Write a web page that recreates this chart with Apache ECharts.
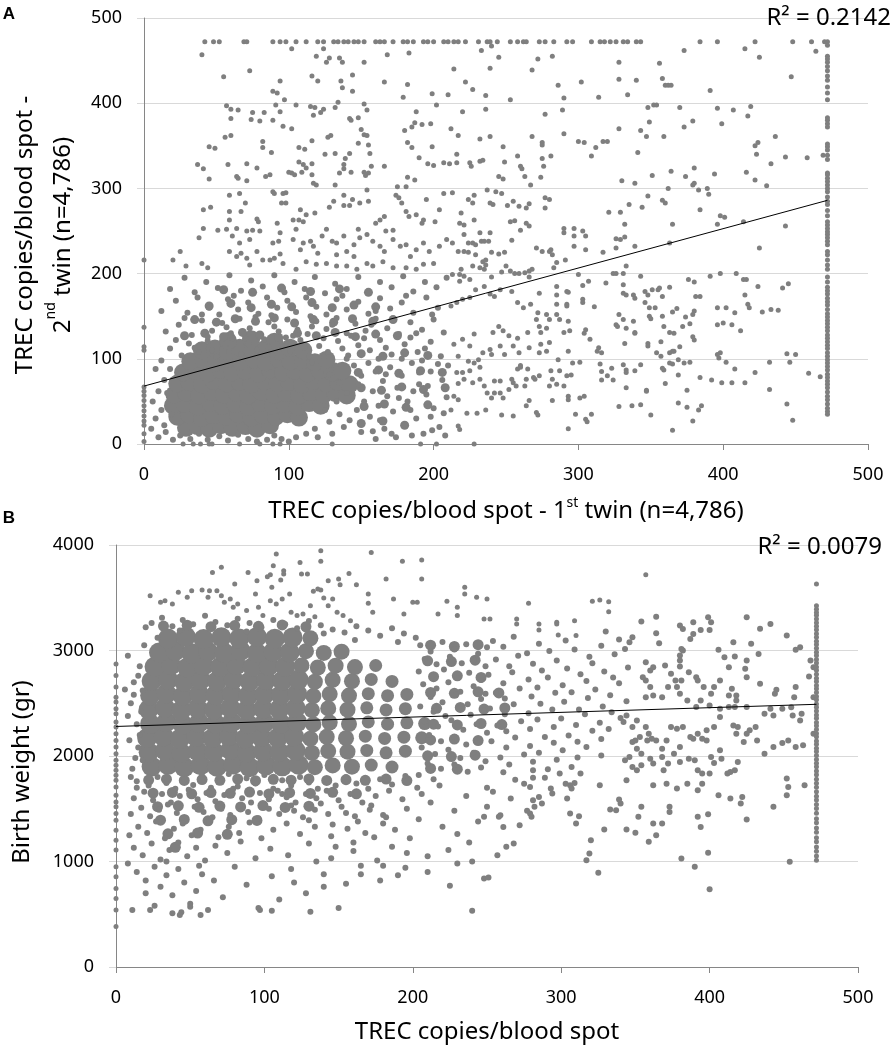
<!DOCTYPE html>
<html>
<head>
<meta charset="utf-8">
<script src="https://cdn.jsdelivr.net/npm/echarts/dist/echarts.min.js"></script>
<style>html,body{margin:0;padding:0;background:#fff}#chart{width:896px;height:1054px}</style>
</head>
<body>
<div id="chart"></div>
<script>
// ---- panel A : TREC copies, 1st twin vs 2nd twin ----
const twinTicks = [0, 100, 200, 300, 400, 500];
const twinCap = 472; // values above the assay range are plotted at the cap
const twinTopRowX = [42,48,52,69,71,89,94,98,105,112,120,124,131,134,138,141,145,148,152,160,163,166,172,179,182,186,193,196,200,207,210,214,217,222,231,237,239,244,253,258,262,264,273,277,283,292,296,309,315,318,322,326,331,334,340,343,384,396,422,448,461,470];
const twinRightColY = [472,468,455,452,448,443,438,432,427,419,412,404,383,380,376,372,352,349,345,339,334,318,316,312,308,304,300,296,290,285,281,274,268,261,257,253,249,246,242,238,234,226,222,216,210,205,196,190,184,180,176,171,167,163,158,153,149,145,141,137,133,128,124,120,116,112,107,103,99,95,91,87,82,78,74,70,66,61,56,52,47,42,38,35];
const twinZeroColY = [216,137,114,110,67,62,57,51,45,39,33,27,22,12,3];
const twinZeroRowX = [27,34,39,45,47,66,80,89,94,130,191,202,228];
const twinTrend = [[0, 68], [472, 286]];
const twinR2 = '0.2142';

// solid core of the cloud (drawn with larger marks)
const twinCore = [
  [29,19],[37,21],[45,18],[53,22],[61,19],[70,21],[78,18],[87,22],
  [23,32],[31,35],[40,31],[48,34],[57,32],[65,35],[74,31],[82,34],[91,32],[99,35],[107,31],
  [20,45],[28,47],[37,44],[46,48],[54,45],[63,47],[72,44],[80,48],[89,45],[97,47],[106,44],[114,48],[122,45],
  [21,58],[29,60],[38,57],[47,61],[55,58],[64,60],[72,57],[81,61],[90,58],[98,60],[107,57],[115,61],[124,58],[132,60],[140,57],
  [23,71],[31,73],[40,70],[48,74],[57,71],[66,73],[74,70],[83,74],[92,71],[100,73],[109,70],[117,74],[126,71],[134,73],[142,70],
  [27,84],[35,86],[44,83],[53,87],[61,84],[70,86],[79,83],[87,87],[96,84],[104,86],[113,83],[121,87],[130,84],[137,86],
  [32,97],[41,99],[50,96],[58,100],[67,97],[76,99],[84,96],[93,100],[101,97],[110,99],[118,96],[126,99],
  [40,110],[49,112],[58,109],[66,113],[75,110],[84,112],[93,109],[101,113],[110,110],
  [58,121],[74,123],[90,120]
];
// dense but speckled part around the core
const twinDense = [
  [28,127],[42,130],[55,126],[68,131],[80,128],[93,125],[106,130],[119,127],[132,131],[146,126],[160,129],[175,127],
  [35,146],[50,143],[63,147],[77,144],[90,148],[104,142],[117,146],[131,143],[144,147],[158,144],[172,146],
  [45,162],[60,165],[74,160],[88,164],[102,161],[116,166],[130,160],[145,163],[160,161],
  [55,181],[75,178],[95,183],[115,179],[135,182],[155,178],
  [150,24],[165,27],[180,22],
  [152,44],[166,47],[181,43],[196,46],
  [150,66],[164,63],[178,67],[193,64],[208,66],
  [148,84],[162,87],[176,83],[191,86],[206,84],
  [150,106],[165,103],[180,107],[196,104]
];
const twinMid = [
  [18,112],[26,104],[31,118],[38,108],[44,121],[50,103],[56,115],[61,124],[67,106],[72,118],[78,110],[83,123],[89,104],[95,116],[101,109],[108,122],[114,103],[121,115],[127,108],[134,121],[141,104],[148,116],[156,110],[163,122],[171,105],[180,117],[189,108],[198,120],[205,103],
  [22,122],[35,113],[47,110],[59,108],[70,124],[86,114],[98,125],[111,113],[124,124],[137,112],[152,124],[167,113],[184,125],[194,112],
  [15,132],[24,140],[33,128],[40,145],[47,133],[54,142],[60,130],[66,147],[73,136],[80,128],[86,143],[93,132],[99,146],[106,134],[113,129],[119,144],[126,135],[133,148],[140,130],[146,141],[153,133],[160,147],[168,136],[176,129],[184,143],[192,134],[200,146],[207,131],
  [28,148],[44,126],[57,137],[77,149],[90,138],[103,127],[116,138],[130,140],[143,127],[157,140],[172,146],[188,130],
  [12,156],[22,168],[30,154],[37,172],[45,160],[52,152],[58,170],[65,158],[72,166],[79,153],[85,172],[92,160],[99,168],[105,155],[112,172],[119,161],[126,152],[133,170],[140,158],[148,167],[155,153],[163,171],[170,159],[178,166],[186,154],[195,172],[203,160],
  [40,152],[62,174],[88,151],[115,150],[137,174],[160,156],[181,174],[199,152],
  [18,182],[28,195],[35,178],[43,190],[51,183],[59,198],[67,180],[74,192],[82,185],[90,198],[97,178],[104,190],[111,182],[118,196],[125,177],[132,188],[140,182],[148,196],[155,178],[163,190],[171,184],[179,197],[186,179],[194,190],[202,184],[209,195],
  [145,92],[150,80],[155,95],[148,70],[158,62],[152,50],[160,85],[165,74],[147,40],[156,32],[162,45],[168,56],[170,90],[175,66],[172,38],[178,80],[182,50],[185,95],[188,30],[190,70],[195,58],[198,85],[200,42],[204,20],[206,75],[209,55],[180,22],[166,18],[150,14],[138,20],[130,12],[120,8],[142,28],[135,35],[128,26],[193,12],[185,10],[174,8],[160,6],[210,92],[192,98],[178,100],[162,100],[140,100],[132,92],[116,96],[124,102],[128,82],[135,72],[140,60],[133,50],[125,40],[118,18],[112,12],[105,8],[95,6],[85,5],[72,6],[198,32],[208,10],
  [163,28],[171,12],[184,40],[196,68],[203,94],[186,62],[176,54],[158,15],[167,82],[190,84],[199,16],[207,36],
  [10,8],[15,14],[20,5],[25,10],[32,6],[38,12],[44,5],[52,9],[58,4],[65,11],[78,3],[90,10],[100,3],[14,22],[8,30],[12,40],[6,50],[10,62],[14,75],[8,88],[12,98],[18,88],[16,60],[19,35],[5,18]
];
const twinUpper = [
  [41,275],[46,278],[59,292],[66,294],[59,273],[67,273],[70,283],[78,264],[79,261],[89,296],[90,294],[96,294],[98,295],[95,283],[98,283],[103,263],[107,263],[110,261],[112,269],[118,271],[108,275],[128,278],[131,285],[138,292],[138,280],[142,280],[144,287],[149,283],[155,285],[154,298],[160,259],[163,263],[166,267],[167,250],[172,251],[174,292],[176,289],[178,283],[181,273],[183,267],[188,269],[192,259],[193,263],[201,261],[195,287],[204,275],[207,294],
  [41,253],[38,242],[51,251],[57,252],[25,226],[20,216],[29,209],[40,212],[44,207],[59,263],[61,244],[64,253],[66,236],[71,250],[73,240],[75,251],[80,250],[59,226],[64,220],[67,224],[71,218],[73,210],[78,226],[82,216],[87,216],[90,218],[94,223],[96,212],[92,259],[94,248],[89,236],[93,238],
  [103,240],[105,252],[108,228],[110,236],[115,238],[117,232],[120,224],[123,244],[126,252],[130,238],[133,236],[138,244],[133,222],[140,226],[145,220],[145,234],[148,252],[149,242],[154,246],[158,238],[163,232],[166,226],[172,240],[177,232],[181,234],[184,220],[188,228],[193,236],[197,226],[204,232],[209,240],[200,212],[193,211],[188,205],[181,207],[172,207],[165,214],[158,209],[154,212],[147,205],[140,209],[133,209],[126,212],[119,211],[112,214],[105,205],
  [40,457],[55,431],[73,438],[102,464],[124,464],[119,455],[126,448],[128,453],[135,453],[137,448],[152,448],[168,457],[183,459],[116,432],[120,426],[136,426],[137,418],[144,433],[144,414],[94,426],[89,414],[92,412],[97,404],[91,398],[105,398],[115,396],[118,395],[57,397],[60,393],[65,392],[60,382],[75,389],[74,381],[80,379],[83,389],[89,380],[94,390],[96,373],[102,370],[124,393],[122,389],[117,386],[132,395],[134,401],[142,382],[143,380],[148,383],[152,399],[154,392],[150,369],[152,363],[154,362],
  [166,425],[179,407],[182,422],[188,390],[199,411],[202,398],[210,410],[214,440],[222,425],[227,416],[233,462],[239,441],[236,409],[236,393],[240,467],[245,454],[253,404],[268,439],[272,452],[282,455],[286,421],[290,406],[289,392],[290,364],[277,387],[302,425],[314,407],[220,390],[212,370],[217,362],[317,355],[320,355],[312,348],[309,338],[300,355],[304,354],[268,361],[275,354],[275,351],[239,361],[232,358],[248,349],[258,338],[261,323],[260,326],[263,314],[275,335],[276,326],[281,338],[274,313],[267,304],
  [200,327],[196,329],[207,330],[211,329],[216,330],[225,330],[226,326],[232,332],[234,333],[249,331],[245,314],[248,311],[216,340],[199,349],[198,376],[192,375],[185,348],[182,354],[190,336],[180,368],[185,372],[187,377],[175,302],[181,302],[182,313],[187,310],[166,326],[156,341],[157,326],[155,318],[155,351],[152,319],[153,315],[148,353],[142,341],[139,335],[138,328],[143,319],[135,318],[138,323],[132,341],[125,340],[129,362],[127,360],[116,356],[107,348],[111,346],[107,331],[110,328],[112,324],[116,329],[109,319],[116,316],[117,306],[119,304],[132,304],[102,318],[104,316],[100,319],[88,342],[82,348],[82,355],[84,314],[87,316],[78,324],[71,329],[71,309],[64,314],[65,312],[58,328],[56,360],[60,362],[45,349],[49,347],[37,328],[41,323],[45,311]
];
const twinRight = [
  [213,295],[219,271],[224,287],[228,292],[227,283],[237,298],[243,296],[247,294],[239,283],[241,281],[251,280],[255,285],[259,279],[264,277],[266,282],[277,277],[277,289],[280,287],[218,259],[221,257],[228,263],[221,246],[224,236],[213,236],[221,226],[227,236],[229,234],[232,248],[239,248],[233,238],[235,238],[238,238],[240,225],[245,223],[249,225],[254,239],[253,261],[256,262],[260,251],[264,259],[266,256],
  [217,226],[224,225],[229,222],[234,214],[236,216],[236,210],[235,205],[240,196],[232,207],[227,209],[219,205],[213,199],[218,199],[221,197],[225,193],[247,202],[250,209],[253,203],[256,200],[259,200],[263,201],[266,203],[268,205],[266,196],[271,230],[275,226],[280,226],[282,222],[281,228],[283,207],[285,213],[291,216],[290,248],[290,253],[297,253],[297,244],[303,250],[305,244],[305,228],[297,232],[300,199],[303,186],[307,191],
  [285,185],[285,175],[292,179],[293,178],[285,164],[292,162],[292,164],[303,170],[303,166],[311,161],[273,177],[267,164],[258,166],[262,160],[254,179],[246,181],[242,173],[239,176],[235,185],[229,181],[225,172],[220,170],[216,166],[212,162],[218,191],
  [272,154],[271,146],[278,152],[280,146],[273,138],[278,136],[274,131],[285,152],[293,144],[294,133],[287,146],[290,131],[280,119],[274,117],[273,107],[278,109],[286,99],[293,109],[296,95],[301,96],[305,134],[304,130],[308,123],[265,131],[266,113],[258,124],[259,107],[260,92],[255,115],[252,127],[248,133],[245,138],[241,131],[239,111],[246,115],[249,105],[240,105],[234,107],[228,129],[225,115],[231,99],[220,123],[214,117],[217,103],[224,97],[228,95],[232,90],
  [216,84],[220,84],[225,86],[217,71],[221,76],[227,72],[232,76],[235,68],[237,60],[240,54],[242,60],[246,60],[248,54],[252,64],[255,72],[258,88],[260,90],[265,88],[269,78],[270,76],[273,80],[264,76],[281,86],[282,76],[287,86],[292,80],[295,81],[280,68],[285,70],[290,68],[263,68],[266,51],[257,68],[254,76],[246,74],[242,74],
  [214,56],[217,52],[212,40],[223,36],[230,36],[236,40],[247,34],[255,33],[264,45],[271,37],[272,34],[282,51],[293,56],[293,52],[301,54],[304,56],[298,35],[305,29],[306,26],[309,35],[293,18],[217,21],[218,17],
  [317,225],[324,200],[326,200],[331,200],[333,209],[343,197],[319,189],[331,187],[331,177],[333,175],[338,175],[339,171],[346,179],[348,175],[351,181],[355,181],[356,183],[358,173],[363,184],[376,193],[380,190],[381,173],[384,173],[391,197],[398,200],[409,200],[414,193],[416,193],[424,185],[441,183],[445,188],[415,175],[417,164],[418,160],[427,155],[433,158],[438,157],
  [396,160],[402,160],[408,154],[412,133],[396,140],[400,142],[406,140],[328,152],[326,140],[327,138],[333,136],[339,130],[331,146],[338,144],[346,166],[349,160],[349,150],[350,147],[353,160],[358,150],[359,138],[363,131],[366,130],[368,159],[365,155],[372,138],[374,149],[377,141],[379,152],[380,156],[379,126],[380,122],
  [373,95],[377,96],[370,114],[369,81],[363,107],[365,109],[366,109],[357,103],[354,107],[357,120],[348,118],[348,115],[339,131],[332,118],[316,107],[313,109],[314,113],[315,94],[316,85],[316,75],[323,89],[320,80],[324,75],[331,93],[333,87],[333,84],[339,86],[343,93],[333,66],[347,63],[360,71],[358,89],[359,87],[363,95],[365,94],[369,99],
  [384,78],[392,75],[396,105],[398,107],[397,101],[402,96],[408,88],[399,72],[406,72],[415,72],[422,84],[432,96],[432,64],[444,106],[450,105],[446,96],[459,83],[467,79],[444,47],[448,28],[328,44],[337,45],[343,46],[350,34],[347,62],[365,16],[369,48],[375,43],[379,27],[383,40],[385,45],[375,63],
  [373,462],[415,464],[425,454],[447,431],[464,461],[328,448],[356,447],[328,428],[340,427],[334,410],[358,429],[360,421],[362,421],[364,421],[391,415],[352,398],[354,398],[348,395],[370,395],[396,394],[407,392],[419,396],[417,385],[379,379],[373,372],[349,378],[343,368],[347,361],[328,370],[359,361],[399,376],[341,342],[330,309],[339,306],[351,315],[364,320],[374,314],[380,324],[394,317],[416,319],[422,310],[430,303],[422,350],[424,354],[423,340],[436,361],[433,329],[443,337],[458,336],[469,339],
  [362,300],[379,304],[383,298],[389,300],[390,293],[380,306],[348,291],[358,286],[360,283],[344,278],[335,281],[321,272],[329,272],[332,258],[326,241],[329,240],[332,243],[339,232],[326,230],[365,258],[363,236],[384,275],[396,258],[398,268],[401,266],[414,261],[425,230],[443,256]
];

// ---- panel B : TREC copies vs birth weight ----
const bwTicksX = [0, 100, 200, 300, 400, 500];
const bwTicksY = [0, 1000, 2000, 3000, 4000];
const bwCapX = 472;
const bwCapColY = [3630,3425,3392,3361,3333,3298,3262,3231,3197,3158,3126,3088,3057,3021,2983,2952,2914,2881,2843,2812,2776,2738,2707,2668,2637,2601,2563,2532,2494,2462,2427,2388,2357,2318,2286,2252,2213,2182,2143,2112,2073,2042,2004,1966,1931,1897,1858,1822,1779,1741,1703,1662,1618,1583,1541,1502,1458,1406,1368,1317,1278,1226,1188,1137,1097,1052,1013];
const bwZeroColY = [2873,2763,2653,2558,2511,2448,2400,2322,2274,2211,2148,2085,2022,1959,1912,1864,1817,1770,1707,1628,1565,1518,1455,1392,1297,1202,1108,950,855,745,650,540,383];
const bwTrend = [[0, 2280], [472, 2490]];
const bwR2 = '0.0079';

const bwCore = [
  [24,1900],[35,1915],[46,1895],[57,1912],[68,1898],[79,1920],[90,1893],[101,1910],[112,1902],[123,1917],[134,1894],[146,1911],[159,1899],[172,1914],[186,1896],
  [22,2035],[33,2052],[44,2028],[55,2046],[66,2038],[77,2057],[88,2031],[99,2044],[110,2036],[121,2051],[132,2029],[143,2047],[156,2041],[169,2053],[182,2030],[195,2046],
  [21,2171],[32,2186],[43,2163],[54,2181],[65,2168],[76,2187],[87,2166],[98,2179],[109,2172],[120,2184],[131,2164],[142,2182],[155,2169],[168,2188],[181,2167],[194,2178],[206,2173],
  [23,2304],[34,2322],[45,2298],[56,2316],[67,2306],[78,2319],[89,2301],[100,2314],[111,2307],[122,2321],[133,2299],[144,2317],[157,2303],[170,2323],[183,2302],[196,2314],[208,2307],
  [22,2441],[33,2457],[44,2433],[55,2452],[66,2438],[77,2456],[88,2436],[99,2449],[110,2442],[121,2454],[132,2434],[143,2451],[156,2439],[169,2457],[182,2437],[195,2449],
  [23,2574],[34,2592],[45,2569],[56,2586],[67,2577],[78,2589],[89,2571],[100,2584],[111,2576],[122,2591],[133,2568],[144,2587],[157,2573],[170,2591],[183,2572],[196,2584],
  [24,2711],[35,2726],[46,2703],[57,2721],[68,2708],[79,2727],[90,2706],[101,2719],[112,2712],[123,2724],[134,2704],[146,2722],[159,2709],[172,2726],[186,2707],
  [26,2846],[37,2861],[48,2838],[59,2857],[70,2844],[81,2862],[92,2841],[103,2853],[114,2847],[125,2859],[136,2839],[148,2856],[161,2843],[175,2858],
  [29,2981],[40,2996],[51,2973],[62,2991],[73,2978],[84,2997],[95,2976],[106,2988],[117,2982],[128,2994],[140,2977],[152,2989],
  [35,3114],[47,3131],[59,3108],[71,3126],[83,3113],[95,3129],[107,3111],[119,3124],[131,3116]
];
const bwDense = [
  [22,1772],[34,1780],[46,1768],[58,1777],[70,1770],[82,1782],[94,1766],[106,1779],[118,1771],[130,1783],[142,1768],[155,1776],[168,1770],[182,1781],[196,1767],
  [25,1648],[38,1655],[51,1641],[64,1653],[77,1646],[90,1658],[103,1640],[117,1652],[131,1645],[146,1656],[162,1642],
  [28,1520],[42,1528],[56,1514],[70,1525],[84,1517],[99,1530],[114,1512],[130,1524],
  [30,1392],[46,1399],[62,1386],[78,1396],[95,1389],
  [35,1262],[55,1270],[75,1258],[40,1135],
  [212,3050],[228,3038],[244,3055],[210,2902],[226,2895],[242,2908],[214,2752],[230,2760],[246,2745],
  [212,2602],[228,2594],[244,2608],[258,2598],[216,2452],[232,2460],[248,2445],[262,2455],
  [214,2302],[230,2295],[246,2308],[260,2298],[212,2152],[228,2160],[244,2146],[210,2002],[226,1995],[242,2008],[212,1882],[230,1875],
  [32,3232],[48,3240],[64,3226],[80,3236],[96,3229],[112,3242],[128,3225]
];
const bwEdge = [
  [8,2950],[12,2700],[10,2500],[14,2300],[9,2150],[13,1980],[16,2850],[18,2620],[17,2420],[15,2080],[11,1880],[19,3050],[20,3220],[15,2760],[12,2580],[8,2380],[16,2200],[10,1800],[14,1700],[18,1960],[6,2630],
  [24,3260],[31,3310],[38,3230],[45,3290],[52,3250],[60,3330],[67,3270],[75,3240],[82,3300],[90,3260],[98,3220],[106,3290],[114,3250],[122,3210],[130,3280],[138,3240],[146,3200],[154,3170],[162,3230],[170,3190],[178,3140],[186,3210],[194,3160],[202,3120],[43,3190],[88,3180],[140,3160],[28,3120],[161,3100],[190,3080],
  [205,3050],[212,2990],[220,3080],[228,3010],[236,3060],[244,2970],[250,3030],[208,2920],[216,2870],[225,2940],[233,2880],[241,2910],[249,2850],[204,2800],[213,2760],[221,2820],[230,2740],[238,2790],[246,2720],[207,2680],[216,2640],[224,2700],[232,2610],[241,2660],[249,2590],[212,2560],[220,2510],[229,2580],[237,2490],[246,2540],[205,2470],[214,2420],[222,2380],[231,2450],[239,2390],[248,2430],[208,2330],[217,2280],[226,2340],[234,2250],[243,2300],[250,2220],[211,2200],[219,2140],[228,2180],[236,2110],[245,2160],[206,2080],[215,2020],[224,2060],[232,1980],[241,2030],[249,1950],[210,1930],[219,1880],[228,1920],[237,1850],[246,1890],[204,1820],[214,1780]
];
const bwLower = [
  [14,1760],[22,1720],[28,1800],[34,1745],[40,1690],[46,1780],[52,1725],[58,1810],[64,1700],[70,1760],[76,1830],[82,1710],[88,1790],[94,1740],[100,1820],[106,1690],[112,1770],[118,1720],[124,1800],[130,1750],[136,1690],[142,1780],[148,1720],[155,1800],[162,1740],[170,1690],[178,1780],[186,1730],[195,1810],[203,1700],
  [12,1600],[19,1660],[25,1580],[31,1640],[37,1560],[43,1620],[49,1680],[55,1590],[61,1650],[67,1570],[73,1630],[79,1690],[85,1600],[91,1560],[97,1650],[103,1590],[109,1670],[115,1610],[121,1560],[128,1640],[135,1600],[142,1670],[150,1580],[158,1640],[166,1560],[175,1620],[184,1670],[193,1590],
  [10,1450],[17,1510],[23,1430],[29,1490],[35,1540],[41,1460],[47,1410],[53,1520],[59,1470],[65,1420],[71,1500],[77,1440],[83,1530],[89,1470],[96,1410],[103,1500],[110,1450],[118,1530],[126,1420],[134,1490],[143,1450],[152,1520],[161,1430],[171,1490],[182,1420],
  [9,1250],[15,1330],[21,1270],[27,1380],[33,1220],[39,1310],[45,1360],[51,1250],[57,1300],[63,1380],[69,1230],[76,1330],[83,1270],[90,1370],[98,1220],[106,1300],[115,1360],[124,1260],[134,1330],[145,1240],[156,1310],[168,1270],[180,1360],
  [12,1130],[18,1060],[24,1170],[30,1020],[36,1110],[42,1180],[48,1050],[54,1130],[60,1010],[67,1150],[75,1080],[84,1190],[94,1030],[104,1120],[116,1060],[130,1170],[145,1030],[160,1100],[176,1010],
  [8,980],[14,900],[20,820],[26,950],[30,760],[34,870],[38,680],[42,930],[46,800],[50,600],[54,720],[58,880],[62,540],[66,820],[72,660],[80,950],[88,780],[96,560],[105,860],[118,930],[128,700],[140,880],[150,560],[165,960],[178,820],[195,940],[210,900],[225,770],[240,1000],[20,700],[26,580],[34,1000],[44,520],[56,960],
  [11,540],[23,540],[38,509],[43,493],[57,493],[50,571],[97,540],[105,534],[131,524],[240,534],
  [112,1640],[120,1480],[130,1390],[138,1550],[146,1350],[155,1460],[163,1380],[172,1530],[180,1440],[188,1300],[196,1500],[204,1400],[212,1560],[220,1330],[228,1480],[236,1620],[244,1380],[250,1700],[206,1640],[218,1720],[230,1260],[198,1220],[186,1140],[174,1230],[160,1180],[148,1140],[224,1110],[238,1180],[210,1050],[196,1080],[180,960],[165,880],[190,870],[230,980],[248,840],[120,800],[140,760],[110,640],[135,1000],[155,790]
];
const bwFringe = [
  [108,3914],[138,3945],[138,3845],[172,3930],[193,3845],[206,3857],[206,3677],[182,3677],[157,3731],[162,3624],[143,3662],[150,3677],[151,3624],[124,3835],[125,3725],[129,3725],[113,3756],[113,3725],[111,3668],[106,3804],[104,3718],[102,3700],[105,3599],[95,3662],[89,3740],[80,3630],[71,3788],[65,3740],[138,3573],[133,3561],[140,3498],[146,3488],[170,3536],[170,3447],[173,3362],[187,3488],[194,3346],[200,3457],[203,3457],[223,3466],[230,3409],[235,3599],[235,3535],[243,3504],[250,3488],[217,3346],[230,3331],[248,3299],
  [23,3520],[30,3457],[33,3472],[38,3441],[42,3551],[48,3504],[51,3567],[58,3573],[63,3567],[62,3504],[68,3567],[71,3520],[73,3457],[77,3488],[79,3409],[82,3441],[88,3378],[94,3536],[96,3409],[99,3331],[104,3472],[108,3441],[112,3488],[117,3536],[118,3362],[122,3331],[126,3346],[131,3425],[134,3321],[136,3583],[143,3425],[149,3362],[153,3331],[158,3283],
  [357,3718],[278,3447],[321,3466],[326,3479],[332,3463],[332,3368],[252,3299],[270,3299],[270,3252],[285,3252],[285,3195],[297,3268],[297,3252],[309,3283],[298,3148],[310,3141]
];
const bwRight = [
  [254,3090],[261,3035],[268,3130],[277,2975],[285,3065],[292,2995],[303,3095],[309,3010],[319,2940],[327,3045],[336,2965],[343,3015],
  [256,2915],[265,2850],[271,2950],[281,2875],[287,2810],[297,2905],[304,2830],[313,2775],[321,2880],[329,2800],[335,2745],[345,2840],
  [251,2770],[261,2690],[267,2795],[278,2725],[284,2650],[291,2745],[301,2670],[307,2605],[317,2710],[323,2630],[333,2575],[339,2690],
  [256,2600],[262,2545],[272,2640],[280,2565],[286,2495],[296,2600],[302,2515],[312,2440],[318,2550],[328,2470],[334,2415],[344,2520],
  [252,2450],[262,2395],[268,2490],[278,2405],[284,2345],[294,2440],[300,2355],[310,2295],[316,2395],[326,2315],[332,2255],[340,2360],
  [257,2290],[263,2235],[273,2330],[279,2255],[289,2180],[295,2275],[305,2195],[311,2135],[321,2240],[327,2160],
  [253,2140],[263,2080],[269,2175],[279,2095],[285,2030],[295,2125],[301,2055],[311,1985],[317,2085],[327,2005],
  [259,1985],[265,1920],[275,2015],[281,1945],[291,1875],[297,1965],[307,1895],[313,1835],
  [261,1845],[269,1775],[281,1865],[289,1795],
  [330,3179],[354,3274],[364,3321],[364,3163],[366,3069],[348,3126],[346,3078],[339,3104],
  [380,3236],[382,3204],[387,3110],[389,3268],[394,3195],[399,3315],[401,3268],[400,3195],[389,3157],[381,3015],[382,2999],[380,2952],
  [425,3315],[441,3252],[434,3205],[452,3141],[461,3031],[458,3006],[468,2905],[470,2211],[470,2842],
  [406,3006],[416,3078],[428,3063],[433,2968],[410,2936],[417,2943],[413,2842],[425,2905],[424,2826],[407,2716],[425,2747],[434,2684],[444,2590],[445,2627],[458,2653],[457,2558],[455,2463],[467,2754],[470,2558],
  [391,2747],[392,2716],[396,2653],[403,2653],[401,2590],[415,2637],[413,2574],[418,2574],[418,2527],[425,2464],[417,2464],[407,2448],[400,2479],[394,2527],[391,2464],[385,2527],[380,2590],[378,2653],[381,2716],[386,2795],[380,2848],[380,2905],[374,2779],[372,2653],[368,2558],[360,2653],[357,2716],[357,2558],[362,2574],[355,2747],[360,2810],[357,2889],[362,2842],[370,2858],[377,2716],
  [437,2400],[441,2448],[443,2385],[449,2448],[456,2385],[461,2337],[462,2400],[458,2085],[463,2101],[453,2148],[449,2123],[443,2085],[437,2022],[432,2148],[431,2274],[427,2243],[425,2211],[423,2132],[419,2274],[416,2290],[413,2464],[407,2369],[403,2274],[398,2243],[398,2148],[395,2164],[392,2211],[389,2164],[387,2180],[382,2274],[378,2259],[374,2274],[371,2148],[368,2069],[364,2148],[361,2164],[359,2211],[357,2274],[351,2337],[348,2274],[344,2385],[342,2322],[348,2132],[350,2148],[353,2180],[358,2148],[351,2069],[354,2022],[346,1991],[343,1959],[348,1896],[351,1864],[354,1912],[360,1975],[362,1928],[368,1991],[369,1864],[372,1928],[376,2022],[380,2085],[380,1943],[386,1975],[390,1959],[392,1864],[395,1833],[400,1833],[401,1991],[407,2054],[408,1975],[403,1934],[412,1833],[414,1848],[417,1864],[419,1943],[418,2211],
  [452,1786],[453,1707],[452,1628],[464,1723],[443,1518],[425,1398],[406,1628],[414,1596],[422,1612],[421,1549],[395,1738],[392,1675],[394,1328],[392,1423],[399,1448],[381,1029],[390,950],[400,736],[399,1083],[454,997],[373,1518],[373,1470],[368,1360],[362,1360],[359,1187],[364,1250],[354,1518],[352,1423],[350,1272],[344,1303],[340,1549],[339,1587],[337,1486],[333,1492],[329,1303],[325,893],[319,1076],[317,1013],[320,1202],[312,1429],[310,1360],[306,1455],[304,1596],[306,1723],[303,1738],[309,1745],[307,1691],[294,1644],[293,1691],[287,1549],[285,1612],[281,1581],[282,1518],[279,1455],[277,1480],[280,1423],[272,1344],[268,1171],[263,1139],[261,1328],[257,1060],[251,849],[258,1423],[259,1439],[254,1660],[250,1518],[248,1423],[266,1596],[275,1738],[279,1707],[281,1795],[299,1833],[326,1723],[344,1770],[362,1723],[371,1738],[378,1691],[385,1738]
];

// ---- chart ----
const font = '"Noto Sans", "Open Sans", sans-serif';
const dotColor = '#7f7f7f';
const gridColor = '#d9d9d9';
const axisColor = '#868686';

let myChart = echarts.init(document.getElementById('chart'), null, { renderer: 'canvas' });

function dotSeries(data, idx, size) {
  return {
    type: 'scatter', xAxisIndex: idx, yAxisIndex: idx, data: data,
    symbolSize: size, itemStyle: { color: dotColor, opacity: 1 },
    silent: true, animation: false
  };
}
function trendSeries(data, idx) {
  return {
    type: 'line', xAxisIndex: idx, yAxisIndex: idx, data: data, symbol: 'none', z: 10,
    lineStyle: { color: '#000', width: 1 }, silent: true, animation: false
  };
}
function xAxisOf(idx, ticks, name, gap) {
  return {
    gridIndex: idx, type: 'value', min: ticks[0], max: ticks[ticks.length - 1], interval: ticks[1] - ticks[0],
    axisLine: { show: true, lineStyle: { color: axisColor } },
    axisTick: { show: true, length: 6, lineStyle: { color: axisColor } },
    splitLine: { show: false },
    axisLabel: { fontSize: 18, color: '#000', fontFamily: font, margin: 22, formatter: v => String(v) },
    name: name, nameLocation: 'middle', nameGap: gap,
    nameTextStyle: {
      color: '#000', fontFamily: font, fontSize: 24,
      rich: {
        t: { fontSize: 24, fontFamily: font, color: '#000', lineHeight: 30 },
        s: { fontSize: 14, fontFamily: font, color: '#000', lineHeight: 20, verticalAlign: 'top' }
      }
    }
  };
}
function yAxisOf(idx, ticks) {
  return {
    gridIndex: idx, type: 'value', min: ticks[0], max: ticks[ticks.length - 1], interval: ticks[1] - ticks[0],
    axisLine: { show: true, lineStyle: { color: axisColor } },
    axisTick: { show: true, length: 7, lineStyle: { color: gridColor } },
    splitLine: { show: true, lineStyle: { color: gridColor, width: 1 } },
    axisLabel: { fontSize: 18, color: '#000', fontFamily: font, margin: 22, formatter: v => String(v) }
  };
}

const capTop = twinTopRowX.map(x => [x, twinCap]);
const capRight = twinRightColY.map(y => [twinCap, y]);
const zeroCol = twinZeroColY.map(y => [0, y]);
const zeroRow = twinZeroRowX.map(x => [x, 0]);
const bwCapCol = bwCapColY.map(y => [bwCapX, y]);
const bwZeroCol = bwZeroColY.map(y => [0, y]);

let option = {
  backgroundColor: '#fff',
  animation: false,
  grid: [
    { left: 144, top: 18, width: 724, height: 426 },
    { left: 116, top: 545, width: 742, height: 422 }
  ],
  xAxis: [
    xAxisOf(0, twinTicks, '{t|TREC copies/blood spot - 1}{s|st}{t| twin (n=4,786)}', 52),
    xAxisOf(1, bwTicksX, '{t|TREC copies/blood spot}', 50)
  ],
  yAxis: [yAxisOf(0, twinTicks), yAxisOf(1, bwTicksY)],
  series: [
    dotSeries(twinCore, 0, 18),
    dotSeries(twinDense, 0, 9),
    dotSeries(twinMid, 0, 6),
    dotSeries(twinUpper, 0, 5),
    dotSeries(twinRight, 0, 5),
    dotSeries(capTop, 0, 5),
    dotSeries(capRight, 0, 5),
    dotSeries(zeroCol, 0, 5),
    dotSeries(zeroRow, 0, 5),
    trendSeries(twinTrend, 0),
    // the core thins out to the right: marks shrink gradually there
    dotSeries(bwCore, 1, v => (v[0] < 125 ? 20 : v[0] < 165 ? 16 : 13)),
    dotSeries(bwDense, 1, 11),
    dotSeries(bwEdge, 1, 6),
    dotSeries(bwLower, 1, 6),
    dotSeries(bwFringe, 1, 5),
    dotSeries(bwRight, 1, 6),
    dotSeries(bwCapCol, 1, 5),
    dotSeries(bwZeroCol, 1, 5),
    trendSeries(bwTrend, 1)
  ],
  graphic: [
    { type: 'text', x: 9, y: 14, style: { text: 'A', font: 'bold 17px "Liberation Sans", Arial', fill: '#000', textAlign: 'center', textVerticalAlign: 'middle', align: 'center', verticalAlign: 'middle' } },
    { type: 'text', x: 9, y: 518, style: { text: 'B', font: 'bold 17px "Liberation Sans", Arial', fill: '#000', textAlign: 'center', textVerticalAlign: 'middle', align: 'center', verticalAlign: 'middle' } },
    { type: 'text', x: 891, y: 18, z: 20, style: { text: 'R² = ' + twinR2, font: '24px "Noto Sans"', fill: '#000', textAlign: 'right', textVerticalAlign: 'middle', align: 'right', verticalAlign: 'middle' } },
    { type: 'text', x: 882, y: 547, z: 20, style: { text: 'R² = ' + bwR2, font: '24px "Noto Sans"', fill: '#000', textAlign: 'right', textVerticalAlign: 'middle', align: 'right', verticalAlign: 'middle' } },
    {
      type: 'text', x: 44, y: 235, rotation: Math.PI / 2,
      style: {
        text: '{t|TREC copies/blood spot -}\n{t|2}{s|nd}{t| twin (n=4,786)}',
        textAlign: 'center', textVerticalAlign: 'middle', align: 'center', verticalAlign: 'middle', fill: '#000',
        rich: {
          t: { fontSize: 24, fontFamily: font, fill: '#000', color: '#000', lineHeight: 38 },
          s: { fontSize: 14, fontFamily: font, fill: '#000', color: '#000', lineHeight: 26, verticalAlign: 'top' }
        }
      }
    },
    {
      type: 'text', x: 22, y: 772, rotation: Math.PI / 2,
      style: { text: 'Birth weight (gr)', font: '24px "Noto Sans"', fill: '#000', textAlign: 'center', textVerticalAlign: 'middle', align: 'center', verticalAlign: 'middle' }
    }
  ]
};
myChart.setOption(option);
</script>
</body>
</html>
